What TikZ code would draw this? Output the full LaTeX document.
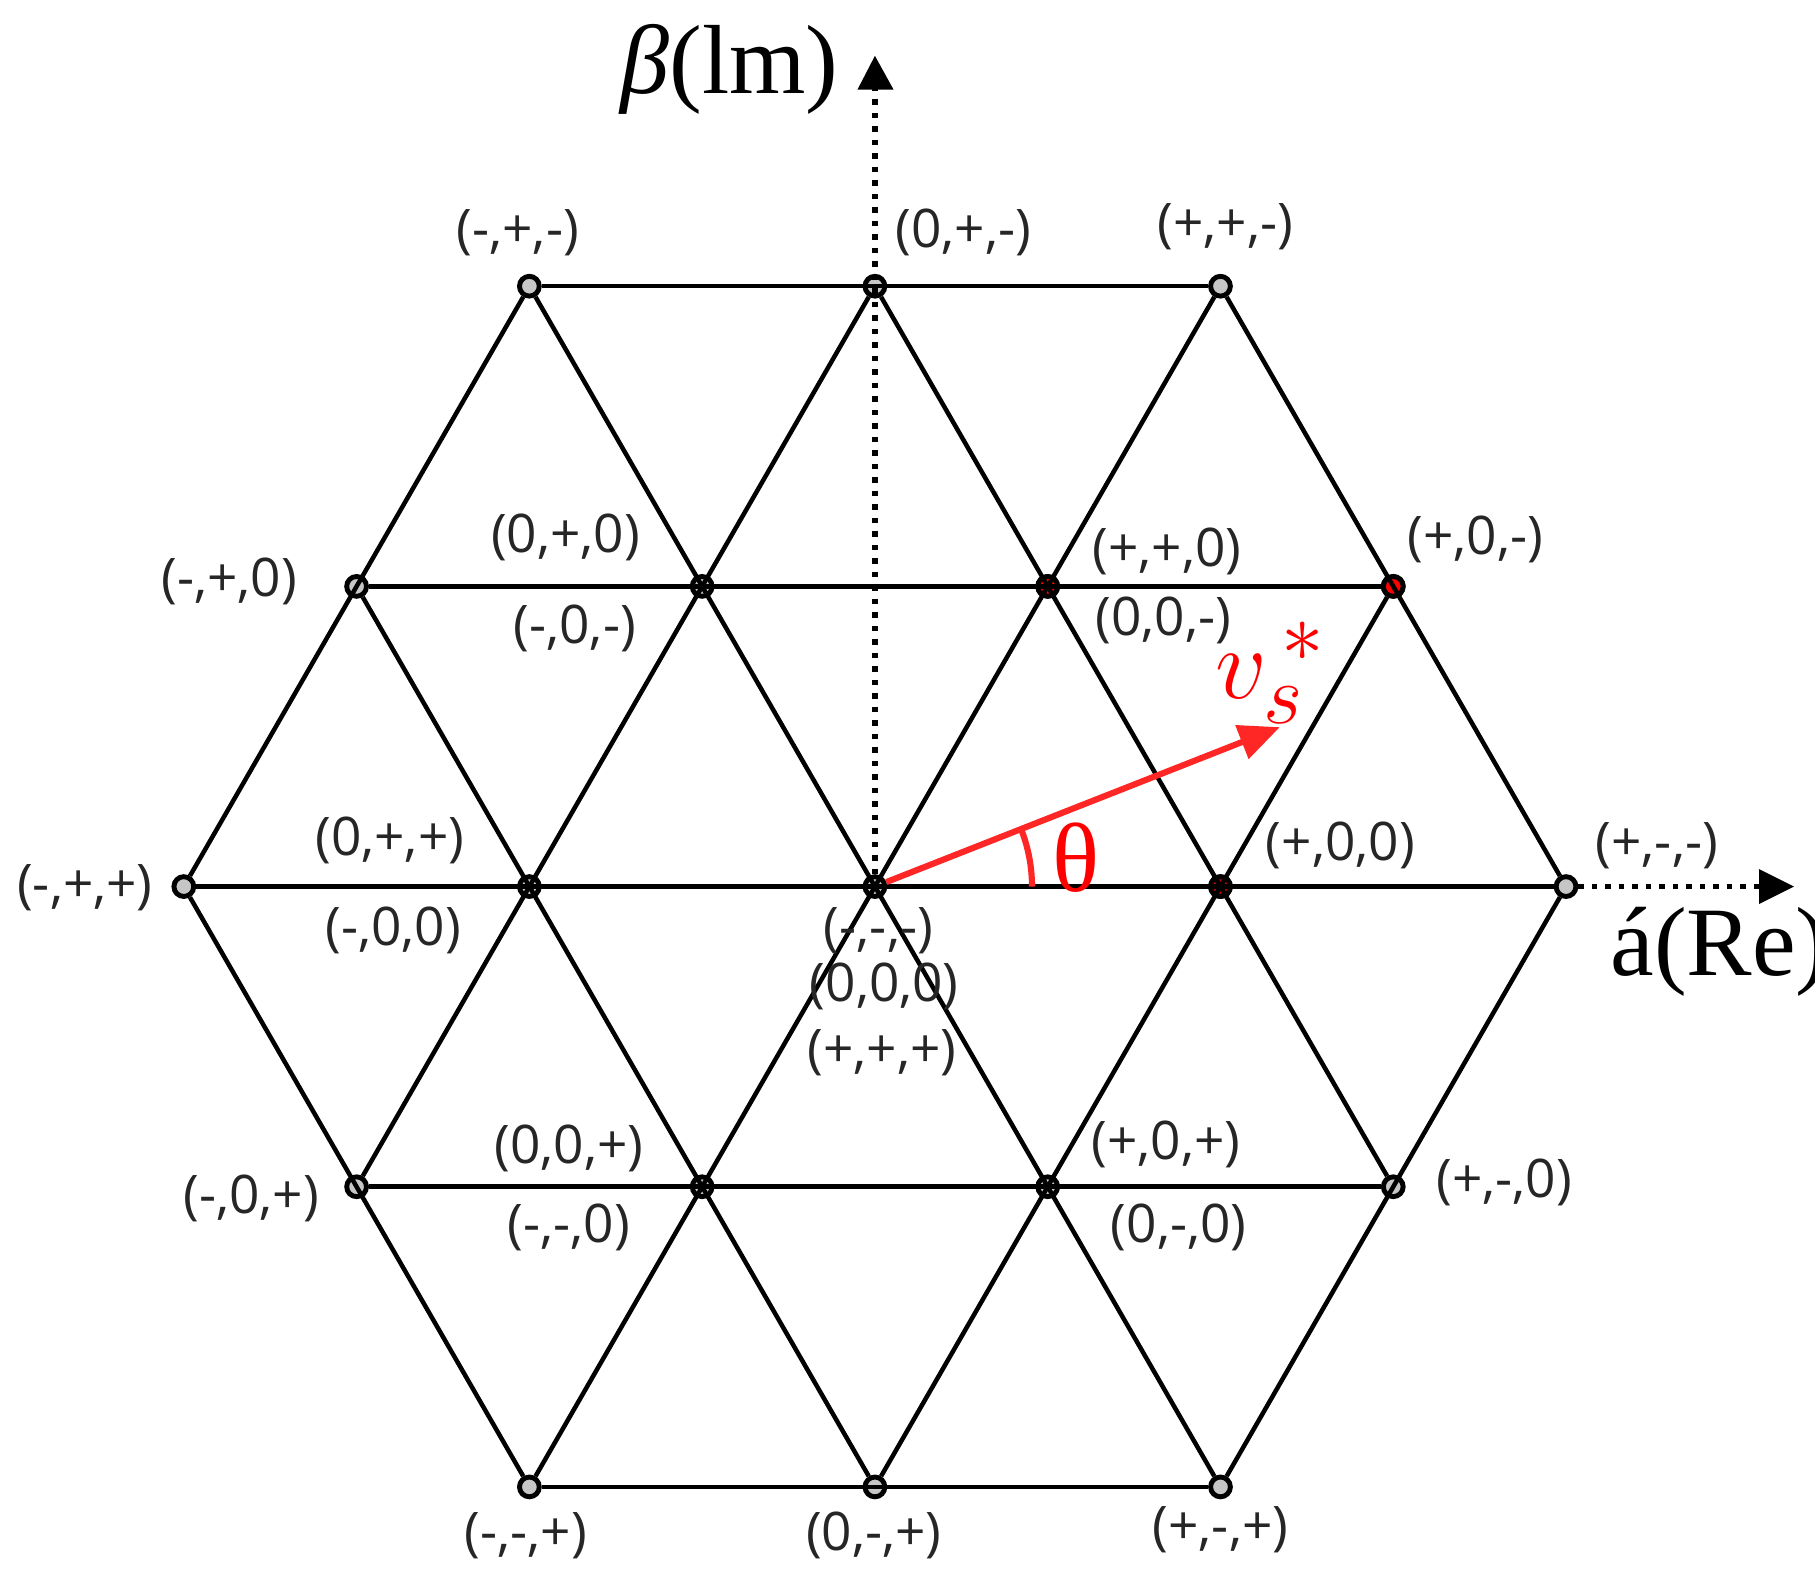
\documentclass[tikz,border=0pt]{standalone}
\usepackage{fontspec}
\setmainfont{Open Sans}
\newfontfamily\serifnum{Liberation Serif}
\usetikzlibrary{arrows.meta}
\begin{document}
\begin{tikzpicture}[x=0.01cm,y=-0.01cm,
  dot/.style={circle,draw=black,line width=1.2pt,fill=gray!45,minimum size=0.17cm,inner sep=0pt},
  rdot/.style={dot,fill=red},
  edge/.style={line width=1.1pt},
  lab/.style={font=\fontsize{13}{14}\selectfont,text=black!85}]
\useasboundingbox (0,0) rectangle (1560,1360);
% lattice nodes
\foreach \i in {-2,...,2}{
 \foreach \j in {-2,...,2}{
  \pgfmathtruncatemacro\k{\i+\j}
  \pgfmathtruncatemacro\ok{(\k>=-2)&&(\k<=2)}
  \ifnum\ok=1
   \pgfmathtruncatemacro\I{\i+2}\pgfmathtruncatemacro\J{\j+2}
   \node[dot] (p\I\J) at ({752+297*\i+148.5*\j},{762-258*\j}) {};
  \fi
 }}
% recolour dots
\node[rdot] at (p23) {};
\node[rdot] at (p33) {};
\node[dot,fill=red!80!black] at (p32) {};
% axes
\draw[line width=1.3pt,dotted] (p22) -- (752,75) coordinate (ytip);
\fill (752,48) -- (737,77) -- (768,77) -- cycle;
\draw[line width=1.3pt,dotted] (p42) -- (1512,762);
\fill (1542,762) -- (1512,747) -- (1512,777) -- cycle;
% rows
\draw[edge] (p04)--(p24); \draw[edge] (p03)--(p33); \draw[edge] (p02)--(p42);
\draw[edge] (p11)--(p41); \draw[edge] (p20)--(p40);
% constant i
\draw[edge] (p02)--(p04); \draw[edge] (p11)--(p14); \draw[edge] (p20)--(p24);
\draw[edge] (p30)--(p33); \draw[edge] (p40)--(p42);
% constant i+j
\draw[edge] (p20)--(p02); \draw[edge] (p30)--(p03); \draw[edge] (p40)--(p04);
\draw[edge] (p41)--(p14); \draw[edge] (p42)--(p24);
% vector
\coordinate (vend) at (1100,625);
\draw[red!85,line width=1.5pt,-{Triangle[length=0.35cm,width=0.3cm]}] (p22) -- (vend);
\draw[red!85,line width=1.5pt] (887,762) arc[start angle=0,end angle=-21.5,radius=135];
\node[text=red,font=\serifnum\fontsize{24}{26}\selectfont] (th) at (925,737) {θ};
\node[text=red,font=\serifnum\itshape\fontsize{30}{30}\selectfont] (vs) at (1092,578) {$v_s^{\,*}$};
% axis labels
\node[font=\serifnum\fontsize{24}{26}\selectfont] (bl) at (627,60) {\textit{β}(lm)};
\node[font=\serifnum\fontsize{24}{26}\selectfont] (al) at (1478,818) {á(Re)};
% labels
\foreach \x/\y/\t in {445/200/(-{,}+{,}-),828/200/(0{,}+{,}-),1053/195/(+{,}+{,}-),
 486/462/(0{,}+{,}0),197/500/(-{,}+{,}0),494/540/(-{,}0{,}-),1003/474/(+{,}+{,}0),1000/533/(0{,}0{,}-),1268/464/(+{,}0{,}-),
 73/763/(-{,}+{,}+),335/722/(0{,}+{,}+),338/800/(-{,}0{,}0),1152/727/(+{,}0{,}0),1424/727/(+{,}-{,}-),
 755/800/(-{,}-{,}-),760/848/(0{,}0{,}0),758/905/(+{,}+{,}+),
 489/987/(0{,}0{,}+),216/1030/(-{,}0{,}+),489/1055/(-{,}-{,}0),1002/984/(+{,}0{,}+),1013/1055/(0{,}-{,}0),1293/1016/(+{,}-{,}0),
 452/1320/(-{,}-{,}+),751/1320/(0{,}-{,}+),1049/1315/(+{,}-{,}+)}
 {\node[lab] at (\x,\y) {\t};}
\end{tikzpicture}
\end{document}
